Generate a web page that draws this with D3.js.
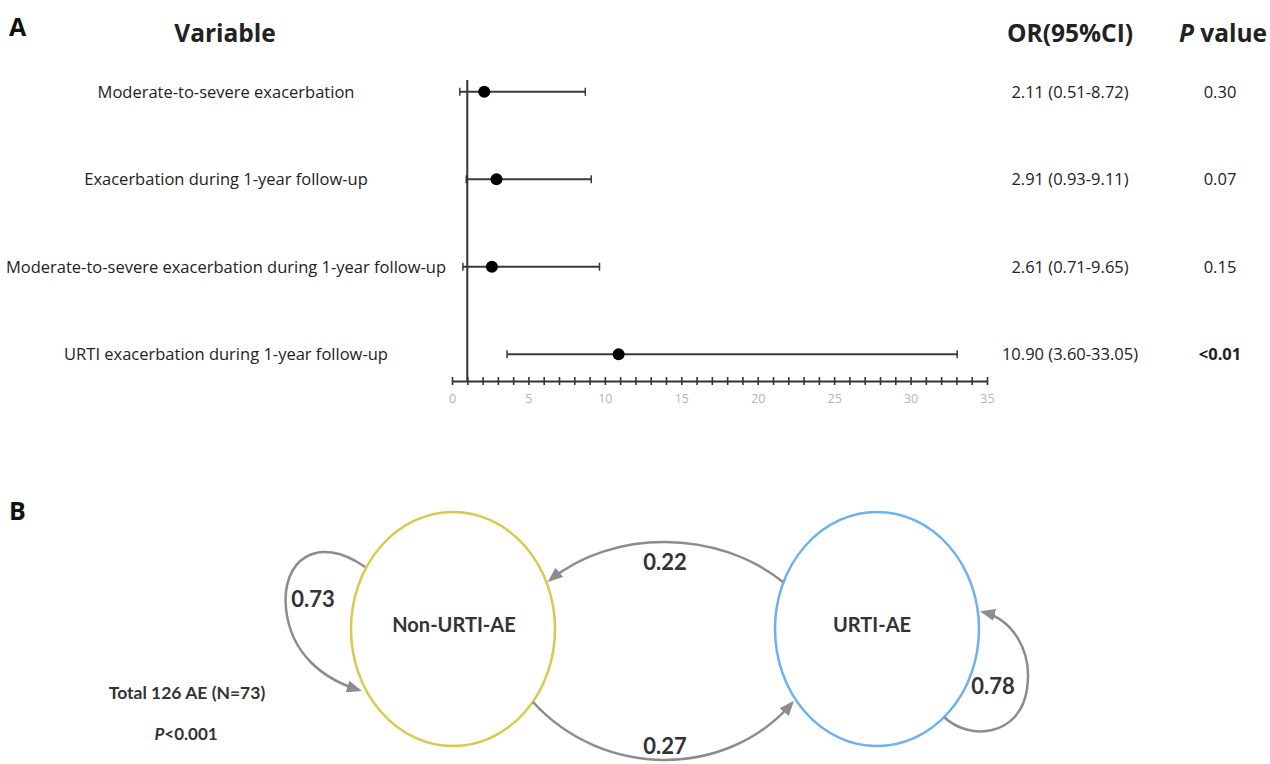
<!DOCTYPE html>
<html>
<head>
<meta charset="utf-8">
<script src="https://cdn.jsdelivr.net/npm/d3@7"></script>
<style>
  html, body { margin: 0; padding: 0; background: #fff; }
  svg { display: block; }
</style>
</head>
<body>
<svg id="fig" width="1270" height="764"></svg>
<script>
// ---- Panel A: odds ratios for URTI-related outcomes ----
const variables = [
  "Moderate-to-severe exacerbation",
  "Exacerbation during 1-year follow-up",
  "Moderate-to-severe exacerbation during 1-year follow-up",
  "URTI exacerbation during 1-year follow-up"
];
const orValues = [2.11, 2.91, 2.61, 10.90];
const ciLower  = [0.51, 0.93, 0.71, 3.60];
const ciUpper  = [8.72, 9.11, 9.65, 33.05];
const orLabels = ["2.11 (0.51-8.72)", "2.91 (0.93-9.11)", "2.61 (0.71-9.65)", "10.90 (3.60-33.05)"];
const pLabels  = ["0.30", "0.07", "0.15", "<0.01"];
const pBold    = [false, false, false, true];
const axisLabelTicks = [0, 5, 10, 15, 20, 25, 30, 35];
const referenceOR = 1;

// ---- Panel B: transitions between exacerbation types ----
const states = ["Non-URTI-AE", "URTI-AE"];
const transFrom = ["Non-URTI-AE", "Non-URTI-AE", "URTI-AE", "URTI-AE"];
const transTo   = ["Non-URTI-AE", "URTI-AE", "Non-URTI-AE", "URTI-AE"];
const transProb = [0.73, 0.27, 0.22, 0.78];
const cohortNote = ["Total 126 AE (N=73)"];

const svg = d3.select("#fig");
const bodyFont = "'Open Sans', sans-serif";
const labelFont = "Lato, 'Open Sans', sans-serif";
const headFont = "'Open Sans', sans-serif";

// Panel letters
svg.append("text").attr("x", 9).attr("y", 36).text("A")
  .attr("font-family", headFont).attr("font-weight", 700).attr("font-size", 25).attr("fill", "#111");
svg.append("text").attr("x", 9).attr("y", 520).text("B")
  .attr("font-family", headFont).attr("font-weight", 700).attr("font-size", 25).attr("fill", "#111");

// ---------- Forest plot ----------
const x = d3.scaleLinear().domain([0, 35]).range([452, 987]);
const y = d3.scaleBand().domain(variables).range([48, 398]).paddingInner(0);
const rowY = v => y(v) + y.bandwidth() / 2;
const axisY = 381;

// column headers
const headSize = 24.5;
svg.append("text").attr("x", 225).attr("y", 42).attr("text-anchor", "middle")
  .attr("font-family", headFont).attr("font-weight", 700).attr("font-size", headSize).attr("fill", "#222")
  .text("Variable");
svg.append("text").attr("x", 1070).attr("y", 42).attr("text-anchor", "middle")
  .attr("font-family", headFont).attr("font-weight", 700).attr("font-size", headSize).attr("fill", "#222")
  .text("OR(95%CI)");
const pHead = svg.append("text").attr("x", 1223).attr("y", 42).attr("text-anchor", "middle")
  .attr("font-family", headFont).attr("font-weight", 700).attr("font-size", headSize).attr("fill", "#222");
pHead.append("tspan").attr("font-style", "italic").text("P");
pHead.append("tspan").text(" value");

const rows = svg.append("g").selectAll("g.row")
  .data(variables.map((v, i) => ({ v, i })))
  .join("g").attr("class", "row");

rows.append("text")
  .attr("x", 226).attr("y", d => rowY(d.v)).attr("dy", "0.35em")
  .attr("text-anchor", "middle")
  .attr("font-family", bodyFont).attr("font-size", 16.5).attr("fill", "#222")
  .text(d => d.v);

rows.append("text")
  .attr("x", 1070).attr("y", d => rowY(d.v)).attr("dy", "0.35em")
  .attr("text-anchor", "middle")
  .attr("font-family", bodyFont).attr("font-size", 16.5).attr("fill", "#222")
  .text(d => orLabels[d.i]);

rows.append("text")
  .attr("x", 1220).attr("y", d => rowY(d.v)).attr("dy", "0.35em")
  .attr("text-anchor", "middle")
  .attr("font-family", bodyFont).attr("font-size", 16.5)
  .attr("font-weight", d => pBold[d.i] ? 700 : 400).attr("fill", "#222")
  .text(d => pLabels[d.i]);

// axis with a tick at every unit, labelled every 5
const axis = d3.axisBottom(x)
  .tickValues(d3.range(0, 36))
  .tickSize(4).tickSizeOuter(0).tickPadding(9)
  .tickFormat(d => axisLabelTicks.includes(d) ? d : "");
const gAxis = svg.append("g").attr("transform", `translate(0,${axisY})`).call(axis);
gAxis.select(".domain").attr("stroke", "#333").attr("stroke-width", 2);
gAxis.selectAll(".tick line").attr("y1", -4).attr("stroke", "#333").attr("stroke-width", 1.6);
gAxis.selectAll(".tick text").attr("fill", "#b5b5b5")
  .attr("font-family", bodyFont).attr("font-size", 12.5);

// reference line at OR = 1
svg.append("line")
  .attr("x1", x(referenceOR)).attr("x2", x(referenceOR))
  .attr("y1", 80).attr("y2", axisY)
  .attr("stroke", "#333").attr("stroke-width", 2);

// confidence intervals
rows.append("line")
  .attr("x1", d => x(ciLower[d.i])).attr("x2", d => x(ciUpper[d.i]))
  .attr("y1", d => rowY(d.v)).attr("y2", d => rowY(d.v))
  .attr("stroke", "#3a3a3a").attr("stroke-width", 2);
rows.selectAll("line.cap")
  .data(d => [ciLower[d.i], ciUpper[d.i]].map(c => ({ c, yy: rowY(d.v) })))
  .join("line").attr("class", "cap")
  .attr("x1", d => x(d.c)).attr("x2", d => x(d.c))
  .attr("y1", d => d.yy - 4).attr("y2", d => d.yy + 4)
  .attr("stroke", "#3a3a3a").attr("stroke-width", 1.5);
rows.append("circle")
  .attr("cx", d => x(orValues[d.i])).attr("cy", d => rowY(d.v))
  .attr("r", 6).attr("fill", "#000");

// ---------- Transition diagram ----------
const nodeX = d3.scalePoint().domain(states).range([453, 877]);
const nodeCY = 629, nodeRX = 102, nodeRY = 117;
const nodeColor = d3.scaleOrdinal().domain(states).range(["#d9c94f", "#6fb1ee"]);

svg.append("defs").append("marker")
  .attr("id", "arrow").attr("viewBox", "0 0 10 10")
  .attr("refX", 8).attr("refY", 5)
  .attr("markerWidth", 6).attr("markerHeight", 6)
  .attr("markerUnits", "strokeWidth").attr("orient", "auto")
  .append("path").attr("d", "M0,1 L10,5 L0,9 Z").attr("fill", "#8c8c8c");

svg.append("g").selectAll("ellipse").data(states).join("ellipse")
  .attr("cx", d => nodeX(d)).attr("cy", nodeCY)
  .attr("rx", nodeRX).attr("ry", nodeRY)
  .attr("fill", "none").attr("stroke", d => nodeColor(d)).attr("stroke-width", 2.5);

svg.append("g").selectAll("text").data(states).join("text")
  .attr("x", (d, i) => nodeX(d) + (i === 0 ? 1 : -5)).attr("y", nodeCY - 4).attr("dy", "0.35em")
  .attr("text-anchor", "middle")
  .attr("font-family", labelFont).attr("font-weight", 700).attr("font-size", 20).attr("fill", "#333")
  .text(d => d);

// curve geometry for each transition, built around the two ellipses
function transitionPath(from, to) {
  const a = nodeX(from), b = nodeX(to);
  const p = d3.path();
  if (from === to && from === states[0]) {
    p.moveTo(a - 88, nodeCY - 62);
    p.bezierCurveTo(a - 135, nodeCY - 95, a - 172, nodeCY - 70, a - 167, nodeCY - 20);
    p.bezierCurveTo(a - 162, nodeCY + 25, a - 130, nodeCY + 50, a - 94, nodeCY + 61);
  } else if (from === to) {
    p.moveTo(a + 67, nodeCY + 88);
    p.bezierCurveTo(a + 92, nodeCY + 112, a + 143, nodeCY + 108, a + 150, nodeCY + 60);
    p.bezierCurveTo(a + 156, nodeCY + 20, a + 134, nodeCY - 10, a + 106, nodeCY - 17);
  } else if (a > b) {
    p.moveTo(a - 94, nodeCY - 47);
    p.bezierCurveTo(a - 160, nodeCY - 100, b + 160, nodeCY - 100, b + 97, nodeCY - 49);
  } else {
    p.moveTo(a + 80, nodeCY + 73);
    p.bezierCurveTo(a + 150, nodeCY + 150, b - 150, nodeCY + 150, b - 85, nodeCY + 74);
  }
  return p.toString();
}

const trans = transProb.map((prob, i) => ({ from: transFrom[i], to: transTo[i], prob }));
svg.append("g").selectAll("path").data(trans).join("path")
  .attr("d", d => transitionPath(d.from, d.to))
  .attr("fill", "none").attr("stroke", "#8c8c8c").attr("stroke-width", 2.5)
  .attr("marker-end", "url(#arrow)");

// probability labels
function labelPos(d) {
  const a = nodeX(d.from), b = nodeX(d.to);
  if (d.from === d.to && d.from === states[0]) return [a - 140, nodeCY - 30];
  if (d.from === d.to) return [a + 116, nodeCY + 57];
  if (a > b) return [(a + b) / 2, nodeCY - 67];
  return [(a + b) / 2, nodeCY + 117];
}
svg.append("g").selectAll("text").data(trans).join("text")
  .attr("x", d => labelPos(d)[0]).attr("y", d => labelPos(d)[1]).attr("dy", "0.35em")
  .attr("text-anchor", "middle")
  .attr("font-family", labelFont).attr("font-weight", 700).attr("font-size", 22).attr("fill", "#333")
  .text(d => d3.format(".2f")(d.prob));

// cohort summary
svg.append("text").attr("x", 187).attr("y", 693).attr("dy", "0.35em")
  .attr("text-anchor", "middle")
  .attr("font-family", labelFont).attr("font-weight", 700).attr("font-size", 17.5).attr("fill", "#333")
  .text(cohortNote[0]);
const pNote = svg.append("text").attr("x", 186).attr("y", 734).attr("dy", "0.35em")
  .attr("text-anchor", "middle")
  .attr("font-family", labelFont).attr("font-weight", 700).attr("font-size", 17).attr("fill", "#333");
pNote.append("tspan").attr("font-style", "italic").text("P");
pNote.append("tspan").text("<0.001");
</script>
</body>
</html>
